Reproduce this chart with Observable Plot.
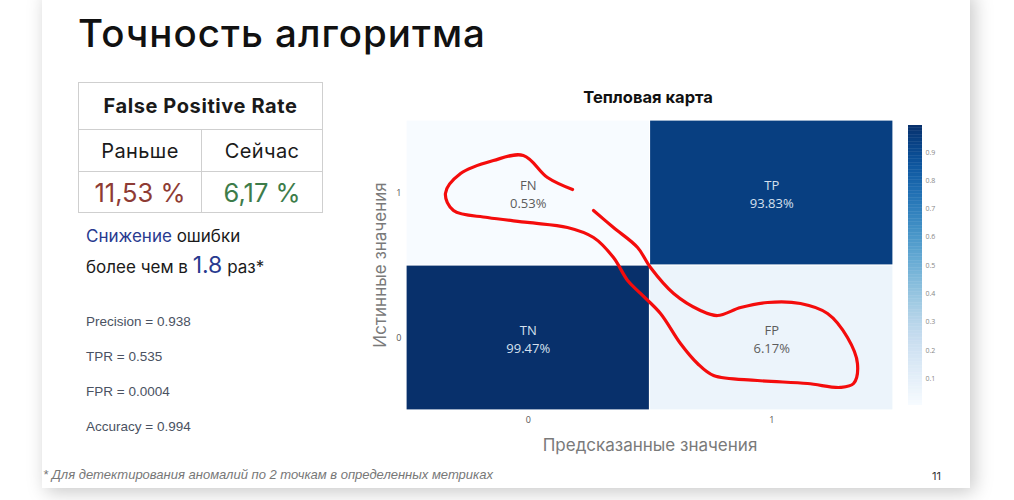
<!DOCTYPE html>
<html lang="ru">
<head>
<meta charset="utf-8">
<script src="https://cdn.jsdelivr.net/npm/d3@7"></script>
<script src="https://cdn.jsdelivr.net/npm/@observablehq/plot@0.6"></script>
<style>
  html, body { margin: 0; padding: 0; background: #ffffff; }
  body { width: 1014px; height: 500px; position: relative; overflow: hidden; font-family: Inter, "Noto Sans", sans-serif; }
  .slide { position: absolute; left: 42px; top: -10px; width: 928px; height: 498px; background: #fff;
           box-shadow: 4px 4px 18px rgba(0,0,0,0.22); overflow: hidden; }
  .abs { position: absolute; white-space: nowrap; }
  .title { left: 36px; top: 20px; font-size: 38.5px; font-weight: 500; color: #111; letter-spacing: 1px; }
  table.fpr { position: absolute; left: 36px; top: 92px; width: 245px; border-collapse: collapse; }
  table.fpr td { border: 1.5px solid #cfcfcf; text-align: center; padding: 0; color: #1a1a1a; }
  .hdr td { height: 46px; font-size: 20px; font-weight: 700; letter-spacing: 0.6px; }
  .lbl td { height: 41px; font-size: 20px; font-weight: 400; letter-spacing: 0.4px; }
  .val td { height: 40px; font-size: 25.5px; font-weight: 400; }
  .before { color: #8e3b34 !important; }
  .after { color: #3d7c4a !important; }
  .drop { left: 44px; font-size: 17px; color: #1a1a1a; }
  .blue { color: #283a8f; }
  .big { font-size: 23px; }
  .metric { left: 44px; font-family: "Liberation Sans", Arial, sans-serif; font-size: 13.5px; color: #4a5262; }
  .hm-title { left: 606px; top: 97px; width: 0; font-size: 16.5px; font-weight: 700; color: #111; }
  .hm-title span { display: inline-block; transform: translateX(-50%); }
  .axis-title { font-size: 17px; color: #7a7a7a; width: 0; }
  .axis-title span { display: inline-block; transform: translate(-50%, -50%); }
  .axis-title.rot span { transform: translate(-50%, -50%) rotate(-90deg); }
  .footer { left: 1px; top: 477px; font-family: "Liberation Sans Narrow", "Liberation Sans", sans-serif;
            font-style: italic; font-size: 13px; color: #777; }
  .page { left: 890px; top: 479px; font-size: 11px; color: #333; }
  #heatmap { position: absolute; left: 318px; top: 120px; }
  #colorbar { position: absolute; left: 858px; top: 125px; }
</style>
</head>
<body>
<div class="slide">
  <div class="abs title">Точность алгоритма</div>
  <table class="fpr">
    <tr class="hdr"><td colspan="2">False Positive Rate</td></tr>
    <tr class="lbl"><td style="width:122px">Раньше</td><td>Сейчас</td></tr>
    <tr class="val"><td class="before" id="fprBefore"></td><td class="after" id="fprAfter"></td></tr>
  </table>
  <div class="abs drop" style="top:236px"><span class="blue">Снижение</span> ошибки</div>
  <div class="abs drop" style="top:261px">более чем в <span class="blue big" id="ratio"></span> раз*</div>
  <div id="metrics"></div>
  <div class="abs hm-title"><span>Тепловая карта</span></div>
  <div id="heatmap"></div>
  <div id="colorbar"></div>
  <div class="abs axis-title rot" style="left:338px; top:275px"><span>Истинные значения</span></div>
  <div class="abs axis-title" style="left:608px; top:455px"><span>Предсказанные значения</span></div>
  <div class="abs footer">* Для детектирования аномалий по 2 точкам в определенных метриках</div>
  <div class="abs page">11</div>
</div>
<script>
// Confusion matrix: predicted class, actual class, cell name, share in percent
const predicted = [0, 1, 0, 1];
const actual = [0, 0, 1, 1];
const cellNames = ["TN", "FP", "FN", "TP"];
const shares = [99.47, 6.17, 0.53, 93.83];

// Class ticks on both axes and colour bar ticks
const classTicks = [0, 1];
const colorbarTicks = [0.1, 0.2, 0.3, 0.4, 0.5, 0.6, 0.7, 0.8, 0.9];

// False positive rate before / after and the improvement ratio
const fprBefore = "11,53 %";
const fprAfter = "6,17 %";
const improvement = "1.8";

// Summary metrics
const metricNames = ["Precision", "TPR", "FPR", "Accuracy"];
const metricValues = ["0.938", "0.535", "0.0004", "0.994"];

// Red hand-drawn highlight around the FN and FP cells, in matrix coordinates
const strokeX = [0.268, 0.350, 0.449, 0.502, 0.597, 0.707, 0.777, 0.872, 0.983, 1.118, 1.229, 1.311, 1.352, 1.336, 1.282,
                 1.147, 0.941, 0.761, 0.695, 0.625, 0.543, 0.461, 0.408, 0.350, 0.268, 0.161, -0.003, -0.167, -0.307,
                 -0.340, -0.278, -0.143, -0.020, 0.079, 0.182];
const strokeY = [0.879, 0.762, 0.624, 0.486, 0.307, 0.190, 0.155, 0.210, 0.245, 0.238, 0.169, 0.003, -0.176, -0.314, -0.341,
                 -0.314, -0.293, -0.259, -0.176, -0.038, 0.169, 0.307, 0.397, 0.555, 0.693, 0.762, 0.797, 0.831, 0.879,
                 0.997, 1.134, 1.224, 1.259, 1.107, 1.024];

document.getElementById("fprBefore").textContent = fprBefore;
document.getElementById("fprAfter").textContent = fprAfter;
document.getElementById("ratio").textContent = improvement;

const metricTops = [324, 359, 394, 429];
const metricsBox = document.getElementById("metrics");
metricNames.forEach((name, i) => {
  const el = document.createElement("div");
  el.className = "abs metric";
  el.style.top = metricTops[i] + "px";
  el.textContent = `${name} = ${metricValues[i]}`;
  metricsBox.appendChild(el);
});

const cells = predicted.map((p, i) => ({
  predicted: p, actual: actual[i], name: cellNames[i], share: shares[i], value: shares[i] / 100
}));
const stroke = strokeX.map((x, i) => ({x, y: strokeY[i]}));

const lo = d3.min(cells, d => d.value);
const hi = d3.max(cells, d => d.value);
const color = {type: "linear", scheme: "blues", domain: [lo, hi]};

const heatmap = Plot.plot({
  width: 540,
  height: 350,
  marginLeft: 46,
  marginRight: 7,
  marginTop: 10,
  marginBottom: 50,
  style: {fontFamily: "Open Sans, Liberation Sans, sans-serif", background: "transparent"},
  x: {domain: [-0.5, 1.5], label: null},
  y: {domain: [-0.5, 1.5], label: null},
  color,
  marks: [
    Plot.rect(cells, {
      x1: d => d.predicted - 0.5, x2: d => d.predicted + 0.5,
      y1: d => d.actual - 0.5, y2: d => d.actual + 0.5,
      fill: "value", inset: 0.6
    }),
    Plot.text(cells, {
      x: "predicted", y: "actual",
      text: d => `${d.name}\n${d.share.toFixed(2)}%`,
      lineHeight: 1.38, fontSize: 13,
      fill: d => d.value > 0.5 ? "#d6e0ee" : "#5c5c5c"
    }),
    Plot.line(stroke, {x: "x", y: "y", curve: "catmull-rom", stroke: "#f40c0c", strokeWidth: 3.2,
      strokeLinecap: "round", strokeLinejoin: "round"}),
    Plot.axisX({ticks: classTicks, tickFormat: d3.format("d"), tickSize: 0, tickPadding: 6,
      fontSize: 9, fill: "#555", label: null}),
    Plot.axisY({ticks: classTicks, tickFormat: d3.format("d"), tickSize: 0, tickPadding: 5,
      fontSize: 9, fill: "#555", label: null})
  ]
});
document.getElementById("heatmap").appendChild(heatmap);

// Continuous colour bar built from thin stacked slices of the same colour scale
const sliceStep = (hi - lo) / 200;
const slices = d3.range(lo, hi, sliceStep);
const colorbar = Plot.plot({
  width: 50,
  height: 300,
  marginLeft: 8,
  marginRight: 28,
  marginTop: 10,
  marginBottom: 10,
  style: {fontFamily: "Open Sans, Liberation Sans, sans-serif", background: "transparent"},
  x: {domain: [0, 1], axis: null},
  y: {domain: [lo, hi]},
  color,
  marks: [
    Plot.rect(slices, {x1: 0, x2: 1, y1: d => d, y2: d => Math.min(hi, d + sliceStep * 1.3), fill: d => d}),
    Plot.axisY({anchor: "right", ticks: colorbarTicks, tickSize: 0, tickPadding: 3, fontSize: 7, fill: "#888", label: null})
  ]
});
document.getElementById("colorbar").appendChild(colorbar);
</script>
</body>
</html>
